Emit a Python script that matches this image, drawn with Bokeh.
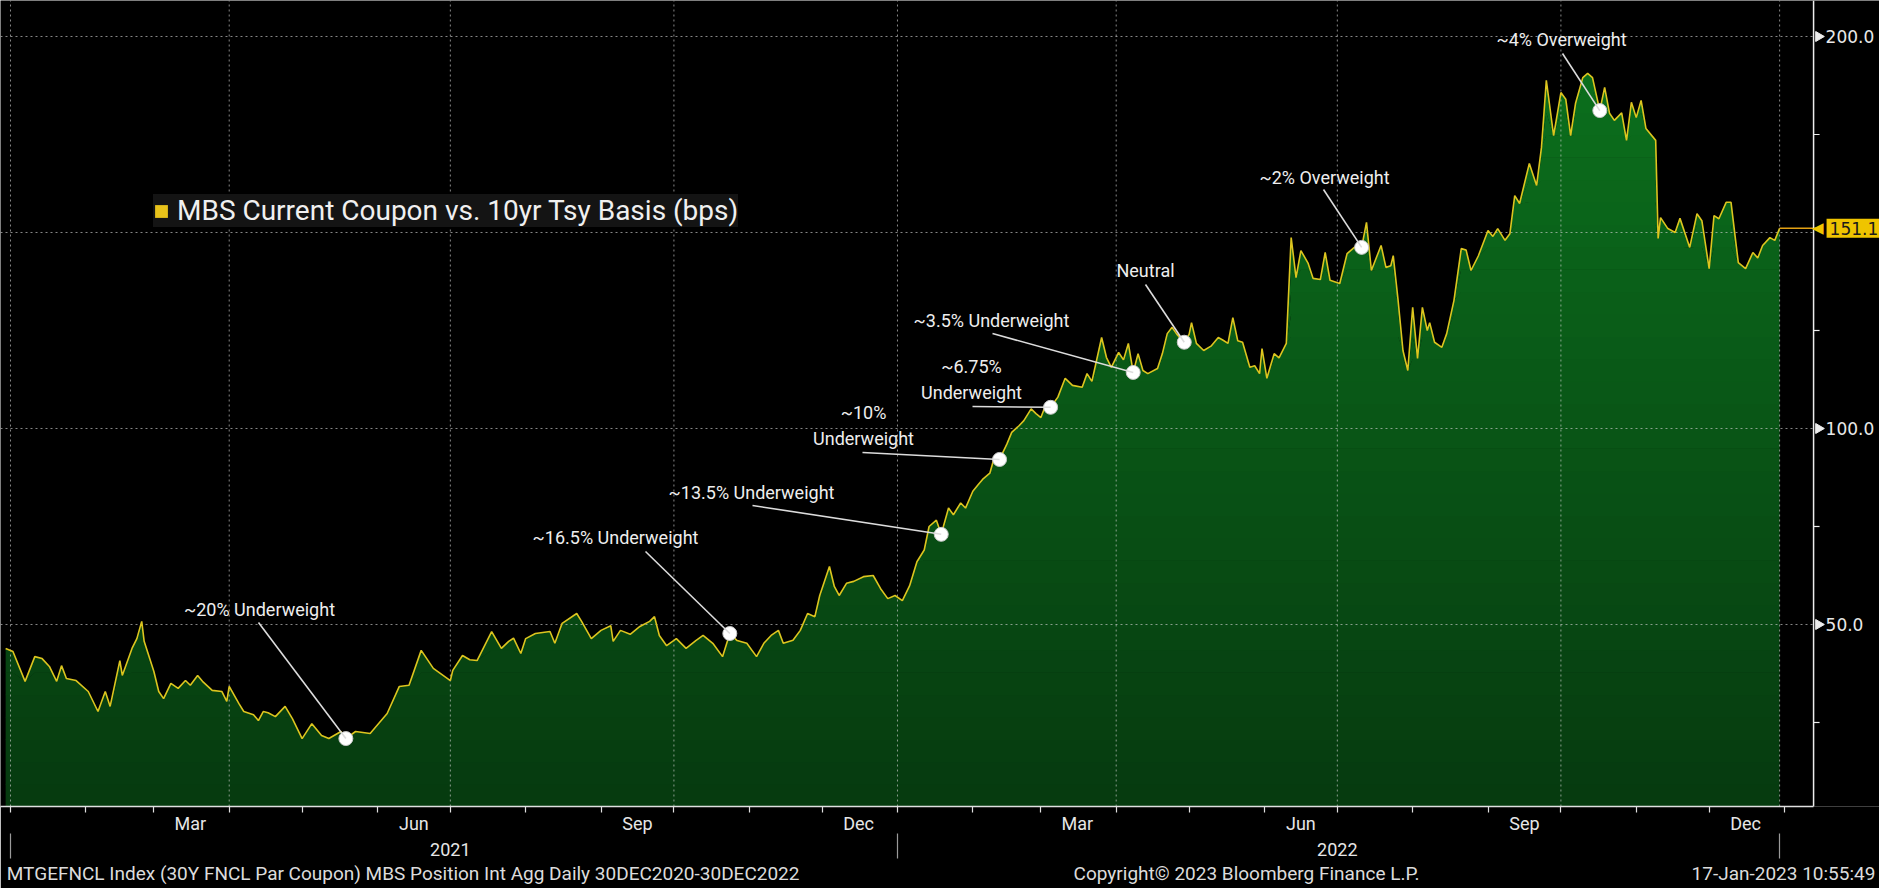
import numpy as np
import pandas as pd
from bokeh.plotting import figure
from bokeh.models import (Range1d, LinearAxis, FixedTicker, Label, Arrow, Legend, LegendItem)
from bokeh.embed import file_html
from bokeh.resources import INLINE

# ---------------- data ----------------
dates = [
    "2020-12-30", "2021-01-02", "2021-01-07", "2021-01-11", "2021-01-14", "2021-01-17", "2021-01-20",
    "2021-01-22", "2021-01-24", "2021-01-28", "2021-02-02", "2021-02-06", "2021-02-09", "2021-02-11",
    "2021-02-15", "2021-02-16", "2021-02-20", "2021-02-22", "2021-02-24", "2021-02-25", "2021-03-01",
    "2021-03-03", "2021-03-05", "2021-03-08", "2021-03-11", "2021-03-14", "2021-03-16", "2021-03-19",
    "2021-03-21", "2021-03-25", "2021-03-29", "2021-03-31", "2021-04-01", "2021-04-05", "2021-04-07",
    "2021-04-11", "2021-04-13", "2021-04-15", "2021-04-17", "2021-04-20", "2021-04-24", "2021-04-27",
    "2021-05-01", "2021-05-05", "2021-05-09", "2021-05-12", "2021-05-17", "2021-05-19", "2021-05-23",
    "2021-05-29", "2021-06-05", "2021-06-10", "2021-06-14", "2021-06-19", "2021-06-24", "2021-07-01",
    "2021-07-02", "2021-07-06", "2021-07-09", "2021-07-12", "2021-07-18", "2021-07-22", "2021-07-25",
    "2021-07-27", "2021-07-30", "2021-08-01", "2021-08-05", "2021-08-11", "2021-08-13", "2021-08-16",
    "2021-08-22", "2021-08-24", "2021-08-28", "2021-09-01", "2021-09-05", "2021-09-06", "2021-09-09",
    "2021-09-13", "2021-09-17", "2021-09-21", "2021-09-23", "2021-09-25", "2021-09-28", "2021-10-02",
    "2021-10-06", "2021-10-10", "2021-10-13", "2021-10-17", "2021-10-21", "2021-10-24", "2021-10-27",
    "2021-10-31", "2021-11-04", "2021-11-07", "2021-11-10", "2021-11-13", "2021-11-15", "2021-11-19",
    "2021-11-22", "2021-11-25", "2021-11-28", "2021-11-30", "2021-12-04", "2021-12-06", "2021-12-08",
    "2021-12-11", "2021-12-14", "2021-12-18", "2021-12-22", "2021-12-25", "2021-12-28", "2021-12-31",
    "2022-01-03", "2022-01-06", "2022-01-09", "2022-01-12", "2022-01-14", "2022-01-17", "2022-01-19",
    "2022-01-22", "2022-01-24", "2022-01-27", "2022-01-29", "2022-02-01", "2022-02-03", "2022-02-05",
    "2022-02-08", "2022-02-10", "2022-02-12", "2022-02-15", "2022-02-17", "2022-02-20", "2022-02-22",
    "2022-02-25", "2022-02-27", "2022-03-01", "2022-03-03", "2022-03-05", "2022-03-08", "2022-03-11",
    "2022-03-14", "2022-03-18", "2022-03-20", "2022-03-22", "2022-03-26", "2022-03-28", "2022-03-30",
    "2022-04-02", "2022-04-04", "2022-04-06", "2022-04-08", "2022-04-10", "2022-04-12", "2022-04-14",
    "2022-04-18", "2022-04-20", "2022-04-22", "2022-04-24", "2022-04-26", "2022-04-29", "2022-05-01",
    "2022-05-02", "2022-05-04", "2022-05-07", "2022-05-10", "2022-05-13", "2022-05-15", "2022-05-17",
    "2022-05-19", "2022-05-21", "2022-05-23", "2022-05-26", "2022-05-28", "2022-05-30", "2022-05-31",
    "2022-06-02", "2022-06-05", "2022-06-07", "2022-06-10", "2022-06-12", "2022-06-14", "2022-06-16",
    "2022-06-19", "2022-06-21", "2022-06-24", "2022-06-26", "2022-06-28", "2022-07-02", "2022-07-05",
    "2022-07-08", "2022-07-11", "2022-07-13", "2022-07-15", "2022-07-19", "2022-07-21", "2022-07-23",
    "2022-07-24", "2022-07-26", "2022-07-28", "2022-07-30", "2022-08-01", "2022-08-03", "2022-08-05",
    "2022-08-07", "2022-08-08", "2022-08-10", "2022-08-13", "2022-08-15", "2022-08-18", "2022-08-21",
    "2022-08-23", "2022-08-25", "2022-08-28", "2022-09-01", "2022-09-03", "2022-09-05", "2022-09-08",
    "2022-09-10", "2022-09-12", "2022-09-14", "2022-09-18", "2022-09-21", "2022-09-23", "2022-09-25",
    "2022-09-28", "2022-10-01", "2022-10-03", "2022-10-05", "2022-10-07", "2022-10-10", "2022-10-12",
    "2022-10-14", "2022-10-17", "2022-10-19", "2022-10-21", "2022-10-23", "2022-10-26", "2022-10-28",
    "2022-10-30", "2022-11-01", "2022-11-03", "2022-11-05", "2022-11-09", "2022-11-10", "2022-11-11",
    "2022-11-14", "2022-11-17", "2022-11-19", "2022-11-23", "2022-11-26", "2022-11-28", "2022-12-01",
    "2022-12-03", "2022-12-05", "2022-12-08", "2022-12-10", "2022-12-13", "2022-12-16", "2022-12-19",
    "2022-12-21", "2022-12-23", "2022-12-26", "2022-12-28", "2022-12-30",
]
basis_bps = [
    43.9, 43.1, 35.5, 41.8, 41.3, 39.3, 35.5,
    39.5, 36.2, 35.7, 32.9, 27.8, 32.9, 29.1,
    40.8, 37.0, 43.9, 46.4, 50.8, 45.7, 38.0,
    32.9, 31.1, 35.0, 33.7, 35.7, 34.5, 37.0,
    35.5, 33.2, 32.9, 30.4, 34.2, 29.8, 27.8,
    27.0, 25.5, 27.8, 27.5, 26.5, 29.1, 26.0,
    20.9, 24.7, 21.7, 20.9, 22.7, 20.9, 22.7,
    22.2, 27.3, 34.2, 34.5, 43.4, 38.8, 35.7,
    38.3, 42.1, 41.0, 40.8, 48.2, 43.9, 45.7,
    46.5, 42.6, 46.4, 47.7, 48.2, 45.2, 50.3,
    52.8, 50.8, 46.4, 48.5, 49.7, 45.7, 48.5,
    47.5, 49.5, 50.8, 52.0, 47.2, 44.6, 46.4,
    43.9, 45.9, 47.2, 45.2, 41.8, 47.7, 45.9,
    45.2, 41.8, 45.2, 47.2, 48.5, 45.2, 46.0,
    48.5, 52.8, 52.0, 57.4, 64.8, 59.7, 57.4,
    60.5, 61.0, 62.2, 62.5, 59.2, 56.6, 57.4,
    56.1, 59.9, 66.0, 69.0, 75.0, 76.6, 73.0,
    79.7, 78.0, 81.0, 79.7, 84.0, 85.5, 87.0,
    88.6, 93.0, 92.1, 96.0, 99.0, 100.7, 102.0,
    105.0, 103.8, 102.8, 106.0, 105.4, 108.0, 112.8,
    111.0, 110.5, 114.0, 112.0, 123.2, 118.1, 115.6,
    119.4, 117.5, 121.7, 114.3, 119.1, 114.8, 114.0,
    115.3, 119.1, 124.2, 125.8, 124.0, 122.0, 124.0,
    127.0, 121.7, 119.9, 121.0, 123.2, 122.5, 121.7,
    128.3, 122.4, 122.0, 115.6, 116.0, 114.0, 120.4,
    112.8, 119.1, 118.0, 121.7, 148.7, 138.5, 145.4,
    142.1, 138.3, 138.0, 144.9, 137.8, 137.0, 144.6,
    146.2, 146.2, 152.6, 140.3, 146.7, 141.1, 141.5,
    144.1, 132.7, 119.9, 114.8, 130.9, 117.9, 130.9,
    125.0, 127.0, 122.0, 120.7, 124.2, 132.7, 145.9,
    145.5, 140.3, 144.0, 150.5, 149.0, 151.0, 148.0,
    149.7, 159.4, 157.4, 167.6, 162.0, 171.7, 188.8,
    174.7, 185.7, 184.0, 174.7, 182.9, 189.5, 190.6,
    189.5, 181.1, 187.0, 180.4, 178.6, 180.5, 173.5,
    183.2, 179.3, 183.7, 176.5, 173.5, 148.5, 153.8,
    151.0, 150.0, 153.6, 146.2, 154.8, 153.0, 140.8,
    154.3, 153.5, 157.7, 157.7, 142.3, 140.8, 144.9,
    143.5, 146.7, 148.7, 148.0, 151.1,
]

annotation_text = [
    "~20% Underweight", "~16.5% Underweight", "~13.5% Underweight", "~10%\nUnderweight",
    "~6.75%\nUnderweight", "~3.5% Underweight", "Neutral", "~2% Overweight", "~4% Overweight",
]
annotation_dates = [
    "2021-05-19", "2021-10-24", "2022-01-19", "2022-02-12", "2022-03-05",
    "2022-04-08", "2022-04-29", "2022-07-11", "2022-10-17",
]

month_label_dates = ["2021-03-16", "2021-06-16", "2021-09-16", "2021-12-16",
                     "2022-03-16", "2022-06-16", "2022-09-16", "2022-12-16"]
month_labels = ["Mar", "Jun", "Sep", "Dec", "Mar", "Jun", "Sep", "Dec"]
year_label_dates = ["2021-07-01", "2022-07-01"]
year_labels = ["2021", "2022"]
year_separator_dates = ["2021-01-01", "2022-01-01", "2022-12-30"]
grid_dates = ["2021-01-01", "2021-04-01", "2021-07-01", "2021-10-01", "2022-01-01",
              "2022-04-01", "2022-07-01", "2022-10-01", "2022-12-30"]
grid_values = [50, 100, 150, 200]
y_ticks = [50, 100, 200]
y_tick_labels = ["50.0", "100.0", "200.0"]
y_minor_ticks = [25, 75, 125, 175]
last_label = "151.1"
legend_label = "MBS Current Coupon vs. 10yr Tsy Basis (bps)"
footer_texts = ["MTGEFNCL Index (30Y FNCL Par Coupon) MBS Position Int Agg  Daily 30DEC2020-30DEC2022",
                "Copyright\u00a9 2023 Bloomberg Finance L.P.",
                "17-Jan-2023 10:55:49"]

# ---------------- layout / style ----------------
DAY = 86400000.0
W, H = 1879, 888
FRAME_H = 806


def ms(d):
    return pd.Timestamp(d).value / 1e6


origin = ms("2020-12-30")
X0 = origin - 2.115 * DAY          # canvas x = 0
X_END = origin + 771.1 * DAY       # canvas x = W
X_AX = origin + 743.97 * DAY       # position of the value axis line
PX = (X_END - X0) / W              # data units per pixel (x)
Y0, Y1 = 3.57, 209.18

# canvas positions (px) of annotation texts and leader starts
anno_text_xy = [(259, 609), (615, 537), (751, 492), (863, 425), (971, 379),
                (991, 320), (1145, 270), (1324, 177), (1561, 39)]
anno_leader_xy = [(258, 622), (645, 551), (752, 505), (862, 452), (972, 406),
                  (992, 333), (1145, 284), (1323, 189), (1562, 53)]
footer_centers_px = [405, 1246, 1783]

FONT = "Roboto"
TXT = "#eeeeee"

p = figure(width=W, height=H, x_range=Range1d(X0, X_END), y_range=Range1d(Y0, Y1),
           x_axis_type=None, y_axis_type=None, output_backend="svg", toolbar_location=None,
           background_fill_color="#000000", border_fill_color="#000000",
           outline_line_color=None, min_border_left=0, min_border_top=0,
           min_border_right=0, min_border_bottom=H - FRAME_H)

xs = [ms(d) for d in dates]
vals = np.array(basis_bps, dtype=float)

# gradient-filled area (bands clipped to the series)
top_rgb = np.array([12, 116, 30])
bot_rgb = np.array([6, 58, 15])
nb = 36
edges = np.linspace(Y0, Y1, nb + 1)
for k in range(nb):
    lo, hi = edges[k], edges[k + 1]
    f = (k + 0.5) / nb
    c = bot_rgb + f * (top_rgb - bot_rgb)
    col = "#%02x%02x%02x" % tuple(int(round(v)) for v in c)
    base = np.minimum(vals, lo - 0.15) if k else np.zeros_like(vals)
    p.varea(x=xs, y1=base, y2=np.minimum(vals, hi), fill_color=col, fill_alpha=1.0)

# dotted grid on top of the area
gx = [ms(d) for d in grid_dates]
p.segment(x0=gx, y0=[Y0] * len(gx), x1=gx, y1=[Y1] * len(gx),
          line_color="#d0d0d0", line_alpha=0.65, line_dash="2 3", line_width=1)
p.segment(x0=[X0] * len(grid_values), y0=grid_values, x1=[X_AX] * len(grid_values), y1=grid_values,
          line_color="#d0d0d0", line_alpha=0.65, line_dash="2 3", line_width=1)

# series line
p.line(xs, vals, line_color="#dcc51f", line_width=1.6)
# last value line to the tag
p.line([xs[-1], X_AX + 9 * PX], [vals[-1], vals[-1]], line_color="#e3a114", line_width=1.6)

# value axis (drawn inside the frame so that its tag can sit beside it)
p.segment(x0=[X_AX], y0=[Y0], x1=[X_AX], y1=[Y1], line_color="#eeeeee", line_width=1.5)
p.segment(x0=[X_AX] * len(y_minor_ticks), y0=y_minor_ticks,
          x1=[X_AX + 6 * PX] * len(y_minor_ticks), y1=y_minor_ticks,
          line_color="#eeeeee", line_width=1.2)
p.scatter([X_AX + 5 * PX] * len(y_ticks), y_ticks, marker="triangle", angle=-np.pi / 2,
          size=10, fill_color="#eeeeee", line_color="#eeeeee")
for t, lab in zip(y_ticks, y_tick_labels):
    p.add_layout(Label(x=X_AX, y=t, x_offset=12, text=lab, text_align="left", text_baseline="middle",
                       text_font="DejaVu Sans", text_font_size="17px", text_color="#e8e8e8"))

# last value tag
p.add_layout(Label(x=X_AX, y=vals[-1], x_offset=10, text="\u25c0", text_align="right",
                   text_baseline="middle", text_font="DejaVu Sans", text_font_size="15px",
                   text_color="#efc400"))
p.add_layout(Label(x=X_AX, y=vals[-1], x_offset=13, text=last_label, text_align="left",
                   text_baseline="middle", text_font="DejaVu Sans", text_font_size="17px",
                   text_color="#1a1a1a", background_fill_color="#efc400", padding=3))

# annotations
lookup = dict(zip(dates, basis_bps))
ax = [ms(d) for d in annotation_dates]
ay = [lookup[d] for d in annotation_dates]
for txt, (cx, cy), (lx, ly), x_, y_ in zip(annotation_text, anno_text_xy, anno_leader_xy, ax, ay):
    p.add_layout(Arrow(end=None, x_start=lx, y_start=ly, start_units="canvas",
                       x_end=x_, y_end=y_, end_units="data",
                       line_color="#dcdcdc", line_width=1.6))
    lines = txt.split("\n")
    n = len(lines)
    for i, ln in enumerate(lines):
        yy = cy + (i - (n - 1) / 2) * 26
        p.add_layout(Label(x=cx, y=yy, x_units="canvas", y_units="canvas", text=ln,
                           text_align="center", text_baseline="middle", text_font=FONT,
                           text_font_size="18px", text_color=TXT))
p.scatter(ax, ay, size=14, fill_color="#ffffff", line_color="#c8c8c8", line_width=1)

# bottom month axis
mstarts = [d.value / 1e6 for d in pd.date_range("2021-01-01", "2023-01-01", freq="MS")]
mticks = [ms(d) for d in month_label_dates]
bx = LinearAxis(ticker=FixedTicker(ticks=mticks, minor_ticks=mstarts), bounds=(X0, X_AX),
                major_label_overrides={float(t): l for t, l in zip(mticks, month_labels)},
                axis_line_color="#e0e0e0", axis_line_width=1.5,
                major_tick_out=0, major_tick_in=0, minor_tick_out=6, minor_tick_in=0,
                minor_tick_line_color="#e0e0e0", minor_tick_line_width=1.2,
                major_label_standoff=0, major_label_text_font=FONT,
                major_label_text_font_size="18px", major_label_text_color="#e6e6e6")
p.add_layout(bx, "below")

# year labels
yticks_b = [ms(d) for d in year_label_dates]
yx = LinearAxis(ticker=FixedTicker(ticks=yticks_b, minor_ticks=[]),
                major_label_overrides={float(t): l for t, l in zip(yticks_b, year_labels)},
                axis_line_color=None, major_tick_out=0, major_tick_in=0,
                minor_tick_out=0, minor_tick_in=0,
                major_label_standoff=6, major_label_text_font=FONT,
                major_label_text_font_size="18px", major_label_text_color="#e6e6e6")
p.add_layout(yx, "below")

# footer line (as an axis row of labels); its inner minor ticks are the year separators
fticks = [X0 + c * PX for c in footer_centers_px]
fx = LinearAxis(ticker=FixedTicker(ticks=fticks, minor_ticks=[ms(d) for d in year_separator_dates]),
                major_label_overrides={float(t): l for t, l in zip(fticks, footer_texts)},
                axis_line_color=None, major_tick_out=0, major_tick_in=0,
                minor_tick_out=0, minor_tick_in=25, minor_tick_line_color="#9a9a9a",
                minor_tick_line_width=1.2, major_label_standoff=3,
                major_label_text_font=FONT, major_label_text_font_size="19px",
                major_label_text_color="#dcdcdc")
p.add_layout(fx, "below")

# legend
leg_r = p.quad(left=[xs[-1]], right=[xs[-1]], top=[vals[-1]], bottom=[vals[-1]],
               fill_color="#e8c21a", line_color=None)
legend = Legend(items=[LegendItem(label=legend_label, renderers=[leg_r])],
                location=(153, 579), glyph_width=16, glyph_height=16, label_standoff=8,
                label_height=30, padding=9, margin=0, spacing=0,
                background_fill_color="#141414", background_fill_alpha=1.0,
                border_line_color=None, label_text_font=FONT, label_text_font_size="28px",
                label_text_color="#f0f0f0")
p.add_layout(legend)

open("out.html", "w").write(file_html(p, INLINE))
